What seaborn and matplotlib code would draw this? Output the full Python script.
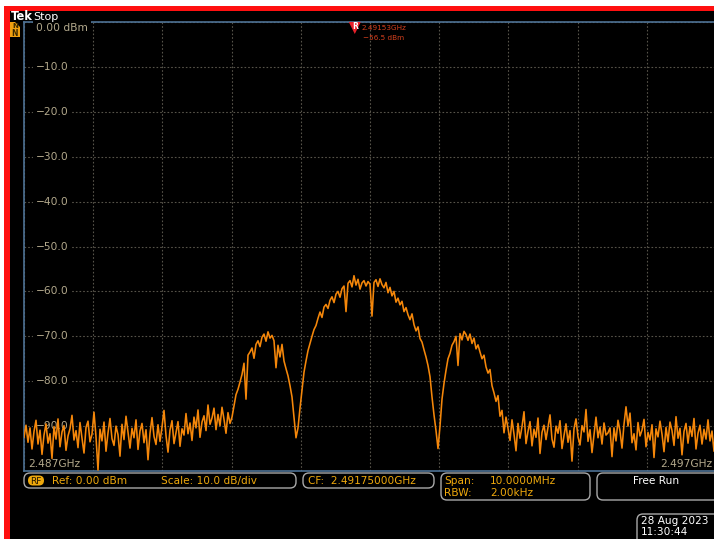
import numpy as np
import matplotlib
matplotlib.use("Agg")
import matplotlib.pyplot as plt
from matplotlib.patches import Rectangle, FancyBboxPatch, Polygon
import seaborn as sns

# Sweep settings
center_ghz = 2.49175
span_ghz = 0.010
ref_dbm = 0.0
scale_db = 10.0
rbw_label = "2.00kHz"
marker_freq_ghz = 2.49153
marker_level_dbm = -56.5
y_ticks = [-10, -20, -30, -40, -50, -60, -70, -80, -90]

# Trace levels (dBm), one per sweep point, low to high frequency
floor_low = [
    -92.5, -89.8, -93.6, -90.4, -95.1, -91.2, -88.7, -94.0, -90.9, -96.3,
    -92.0, -89.5, -93.8, -91.7, -97.2, -90.1, -92.9, -88.4, -94.6, -91.3,
    -89.9, -95.4, -92.2, -90.6, -87.6, -93.1, -91.0, -94.8, -89.2, -92.7,
    -96.0, -90.3, -88.9, -93.5, -91.8, -86.9, -92.4, -99.8, -90.7, -93.3,
    -89.1, -95.6, -91.5, -88.3, -92.8, -94.3, -90.0, -91.9, -96.7, -89.6,
    -93.0, -87.8, -91.4, -94.9, -90.5, -92.6, -88.6, -95.2, -91.1, -89.4,
    -93.7, -90.8, -97.5, -91.6, -88.1, -92.3, -94.1, -89.7, -93.4, -90.2,
    -86.5, -92.1, -95.8, -90.9, -88.8, -93.9, -91.4, -89.0, -94.5, -90.6,
    -92.0, -87.2, -91.7, -89.3, -93.2, -88.0, -90.4, -86.4, -92.5, -89.1,
    -87.7, -91.0, -85.3, -89.6, -88.2, -86.0, -90.8, -87.4, -89.9, -85.8,
    -88.5, -91.6, -87.0, -89.4,
]
lobe_left = [
    -88.0, -85.5, -83.0, -81.8, -80.2, -78.5, -76.0, -84.0, -74.2, -73.5,
    -72.6, -74.9, -71.8, -71.0, -72.3, -70.2, -69.5, -71.1, -69.0, -70.4,
    -69.8, -71.0, -77.0, -72.0, -74.6, -71.8, -75.5, -77.2, -78.8, -81.0,
    -83.5, -88.0, -92.6, -90.4, -86.0,
]
lobe_main = [
    -82.0, -78.0, -75.5, -73.2, -71.6, -70.0, -68.5, -67.6, -66.0, -64.6,
    -65.8, -63.5, -62.9, -63.8, -62.0, -61.2, -62.5, -60.6, -60.0, -61.3,
    -59.4, -58.8, -64.5, -58.2, -57.6, -59.0, -56.5, -58.6, -57.3, -59.5,
    -58.1, -57.6, -58.8, -57.8, -58.4, -65.5, -58.0, -57.4, -58.9, -57.2,
    -58.5, -59.2, -58.0, -60.3, -59.1, -61.0, -60.0, -62.4, -61.5, -63.0,
    -62.2, -64.5, -63.6, -65.2, -66.3, -65.0, -67.4, -68.8, -67.9, -70.5,
    -71.3, -73.0, -74.6, -76.5, -79.0, -83.5, -87.5, -91.0, -95.0,
]
lobe_right = [
    -90.0, -84.0, -80.5, -77.6, -75.0, -73.8, -72.0, -71.2, -70.0, -76.5,
    -69.4, -70.8, -68.9, -69.6, -70.9, -69.5, -71.6, -70.4, -72.8, -71.9,
    -73.5, -75.0, -74.2, -76.8, -78.2, -77.4, -81.0, -82.6, -84.5, -83.2,
    -87.8, -86.5, -91.5, -88.0,
]
floor_high = [
    -90.5, -93.2, -88.6, -91.8, -95.5, -89.4, -92.7, -90.1, -86.8, -93.9,
    -91.2, -89.0, -94.4, -90.7, -92.5, -88.2, -96.1, -91.4, -89.8, -93.0,
    -90.3, -87.5, -92.9, -94.7, -90.0, -91.6, -88.8, -95.0, -92.1, -89.5,
    -93.6, -91.0, -97.8, -90.6, -88.4, -92.4, -94.2, -89.9, -91.3, -86.3,
    -93.4, -90.8, -95.9, -91.9, -88.0, -92.6, -90.2, -94.0, -89.3, -92.0,
    -91.5, -90.4, -96.8, -90.4, -93.3, -88.7, -91.1, -94.9, -89.6, -85.7,
    -90.0, -87.1, -93.7, -91.7, -95.3, -89.2, -92.2, -90.9, -88.5, -94.6,
    -91.4, -93.1, -89.7, -97.0, -90.6, -92.4, -88.9, -91.8, -95.7, -90.3,
    -93.5, -89.1, -91.0, -94.3, -87.9, -92.7, -90.5, -96.4, -91.2, -89.4,
    -93.8, -90.1, -92.3, -88.3, -95.1, -91.6, -89.8, -94.0, -90.7, -92.9,
    -88.6, -93.3, -91.1, -95.6, -90.2,
]

level_dbm = np.array(floor_low + lobe_left + lobe_main + lobe_right + floor_high)
f_start = center_ghz - span_ghz / 2
f_stop = center_ghz + span_ghz / 2
freq_ghz = np.linspace(f_start, f_stop, len(level_dbm))

W, H = 714, 539
TRACE = "#f5870a"
LABEL = "#b3a98c"
GRID = "#57544a"
FRAME = "#4d7194"
AMBER = "#eea80c"
BOXEDGE = "#a9a9a9"

fig = plt.figure(figsize=(W / 100, H / 100), dpi=100, facecolor="black")

# Graticule area: 10 x 10 divisions
ax = fig.add_axes([24 / W, (H - 471) / H, 692 / W, 449 / H])
ax.set_facecolor("black")
sns.lineplot(x=freq_ghz, y=level_dbm, ax=ax, color=TRACE, lw=1.15,
             estimator=None, sort=False, zorder=4)
ax.set_xlim(f_start, f_stop)
ax.set_ylim(ref_dbm - 10 * scale_db, ref_dbm)
ax.set_xticks(np.linspace(f_start, f_stop, 11))
ax.set_yticks(np.arange(ref_dbm - 10 * scale_db, ref_dbm + 1, scale_db))
ax.tick_params(length=0, labelbottom=False, labelleft=False)
ax.set_xlabel("")
ax.set_ylabel("")
ax.grid(True, color=GRID, linestyle=(0, (1.5, 1.8)), lw=0.8, zorder=1)
ax.set_axisbelow(True)
for side in ("left", "top", "bottom"):
    ax.spines[side].set_color(FRAME)
    ax.spines[side].set_linewidth(1.2)
ax.spines["right"].set_visible(False)

ytf = ax.get_yaxis_transform()
ax.text(0.0175, ref_dbm - 1.3, f"{ref_dbm:.2f} dBm", transform=ytf, color=LABEL,
        fontsize=7.7, ha="left", va="center", zorder=3,
        bbox=dict(fc="black", ec="none", pad=2.5))
for v in y_ticks:
    ax.text(0.0175, v, f"\u2212{abs(v):.1f}", transform=ytf, color=LABEL,
            fontsize=7.7, ha="left", va="center", zorder=3,
            bbox=dict(fc="black", ec="none", pad=2.5))
ax.text(0.006, 0.005, f"{f_start:.3f}GHz", transform=ax.transAxes, color=LABEL,
        fontsize=7.7, ha="left", va="bottom", zorder=5)
ax.text(0.994, 0.005, f"{f_stop:.3f}GHz", transform=ax.transAxes, color=LABEL,
        fontsize=7.7, ha="right", va="bottom", zorder=5)

# Screen furniture in pixel coordinates
ov = fig.add_axes([0, 0, 1, 1], zorder=5)
ov.set_xlim(0, W)
ov.set_ylim(H, 0)
ov.axis("off")

ov.add_patch(Rectangle((0, 0), W, 6, fc="white", ec="none"))
ov.add_patch(Rectangle((0, 0), 4, H, fc="white", ec="none"))
ov.add_patch(Rectangle((4, 6), W, 5, fc="#ff1010", ec="none"))
ov.add_patch(Rectangle((4, 6), 6, H, fc="#ff1010", ec="none"))

ov.text(11, 17, "Tek", color="white", fontsize=8.3, fontweight="bold",
        ha="left", va="center")
ov.text(33, 16.5, "Stop", color="white", fontsize=8, ha="left", va="center")

# Channel badge at the left edge of the graticule
ov.add_patch(Rectangle((10, 22), 10, 15, fc="#f0a010", ec="none"))
ov.add_patch(Polygon([(15, 22), (20, 22), (20, 27)], closed=True, fc="black", ec="none"))
ov.text(15, 26, "N", color="#3a2a00", fontsize=5, ha="center", va="center",
        fontweight="bold")
ov.text(15, 33, "N", color="#3a2a00", fontsize=5.5, ha="center", va="center",
        fontweight="bold")

# Reference marker
mx = 24 + (marker_freq_ghz - f_start) / span_ghz * 692
ov.add_patch(Polygon([(mx - 6, 22), (mx + 6, 22), (mx, 34)], closed=True,
                     fc="#e8202a", ec="none"))
ov.text(mx, 26.5, "R", color="white", fontsize=5.5, fontweight="bold",
        ha="center", va="center")
ov.text(mx + 7, 28.5, f"{marker_freq_ghz:.5f}GHz", color="#d6401e", fontsize=5.2,
        ha="left", va="center")
ov.text(mx + 8, 37.5, f"\u2212{abs(marker_level_dbm):.1f} dBm", color="#d6401e",
        fontsize=5.2, ha="left", va="center")


def panel(x0, y0, x1, y1):
    ov.add_patch(FancyBboxPatch((x0, y0), x1 - x0, y1 - y0,
                                boxstyle="round,pad=0,rounding_size=6",
                                fc="black", ec=BOXEDGE, lw=1.0))


panel(24, 473, 296, 488)
panel(303, 473, 434, 488)
panel(441, 473, 590, 500)
panel(597, 473, 722, 500)
panel(637, 514, 722, 545)

ov.add_patch(FancyBboxPatch((28, 475.5), 16, 10, boxstyle="round,pad=0,rounding_size=5",
                            fc=AMBER, ec="none"))
ov.text(36, 481, "RF", color="#201400", fontsize=6.5, ha="center", va="center")
ov.text(52, 481, f"Ref: {ref_dbm:.2f} dBm", color=AMBER, fontsize=7.6,
        ha="left", va="center")
ov.text(161, 481, f"Scale: {scale_db:.1f} dB/div", color=AMBER, fontsize=7.6,
        ha="left", va="center")
ov.text(308, 481, f"CF:  {center_ghz:.8f}GHz", color=AMBER, fontsize=7.6,
        ha="left", va="center")
ov.text(444, 481, "Span:", color=AMBER, fontsize=7.6, ha="left", va="center")
ov.text(490, 481, f"{span_ghz * 1000:.4f}MHz", color=AMBER, fontsize=7.6,
        ha="left", va="center")
ov.text(444, 493, "RBW:", color=AMBER, fontsize=7.6, ha="left", va="center")
ov.text(490, 493, rbw_label, color=AMBER, fontsize=7.6, ha="left", va="center")
ov.text(656, 481, "Free Run", color="white", fontsize=7.6, ha="center", va="center")
ov.text(641, 521, "28 Aug 2023", color="white", fontsize=7.6, ha="left", va="center")
ov.text(641, 532, "11:30:44", color="white", fontsize=7.6, ha="left", va="center")

fig.savefig("out.png", dpi=100, facecolor="black")
